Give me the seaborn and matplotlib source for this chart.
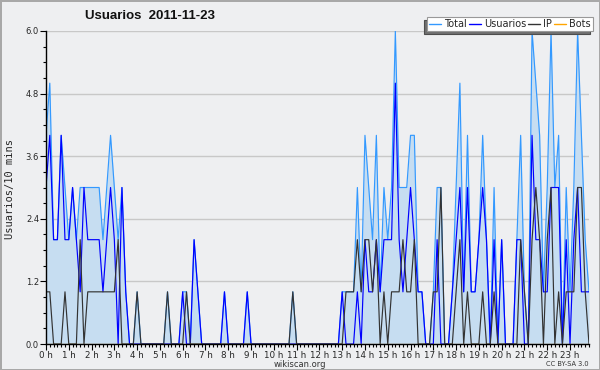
import numpy as np
import matplotlib
matplotlib.use("Agg")
import matplotlib.pyplot as plt
import seaborn as sns

# ---- data (10-minute bins over 24 h) ----
total = [4,5,2,2,4,3,2,3,2,3,3,3,3,3,3,2,3,4,3,2,3,1,0,0,
         1,0,0,0,0,0,0,0,1,0,0,0,1,1,0,2,1,0,0,0,0,0,0,1,
         0,0,0,0,0,1,0,0,0,0,0,0,0,0,0,0,0,1,0,0,0,0,0,0,
         0,0,0,0,0,0,1,1,1,1,3,1,4,3,2,4,1,3,2,3,6,3,3,3,
         4,4,1,1,0,0,1,3,3,0,0,1,3,5,1,4,1,1,2,4,2,0,3,0,
         2,0,0,0,2,4,1,0,6,5,4,1,3,6,3,4,0,3,1,3,6,4,2,1]
usuarios = [3,4,2,2,4,2,2,3,2,1,3,2,2,2,2,1,2,3,2,0,3,1,0,0,
            0,0,0,0,0,0,0,0,0,0,0,0,1,0,0,2,1,0,0,0,0,0,0,1,
            0,0,0,0,0,1,0,0,0,0,0,0,0,0,0,0,0,0,0,0,0,0,0,0,
            0,0,0,0,0,0,1,0,0,0,1,0,2,1,1,2,1,2,2,2,5,2,1,2,
            3,2,1,1,0,0,0,2,0,0,0,1,2,3,1,3,1,1,2,3,2,0,2,0,
            2,0,0,0,2,2,0,0,4,2,2,1,1,3,3,3,0,2,0,2,3,1,1,1]
ip = [1,1,0,0,0,1,0,0,0,2,0,1,1,1,1,1,1,1,1,2,0,0,0,0,
      1,0,0,0,0,0,0,0,1,0,0,0,0,1,0,0,0,0,0,0,0,0,0,0,
      0,0,0,0,0,0,0,0,0,0,0,0,0,0,0,0,0,1,0,0,0,0,0,0,
      0,0,0,0,0,0,0,1,1,1,2,1,2,2,1,2,0,1,0,1,1,1,2,1,
      1,2,0,0,0,0,1,1,3,0,0,0,1,2,0,1,0,0,0,1,0,0,1,0,
      0,0,0,0,0,2,1,0,2,3,2,0,2,3,0,1,0,1,1,1,3,3,1,0]
bots = [0] * 144

hour_labels = [f"{h} h" for h in range(24)]
y_ticks = [0.0, 1.2, 2.4, 3.6, 4.8, 6.0]
series_names = ["Total", "Usuarios", "IP", "Bots"]
colors = ["#3399ff", "#0000ff", "#333333", "#ffa500"]

BG = "#eeeff1"
sns.set_theme(style="white")
plt.rcParams["font.family"] = ["DejaVu Sans"]

fig = plt.figure(figsize=(6.0, 3.7), dpi=100, facecolor=BG)
fig.patch.set_edgecolor("#a8a8a8")
fig.patch.set_linewidth(2)
ax = fig.add_axes([46/600, 1-344/370, (589-46)/600, (344-31)/370])
ax.set_facecolor(BG)

x = np.arange(len(total))
ax.fill_between(x, 0, total, color="#c6ddf1", lw=0, zorder=1)
for name, vals, c in zip(series_names, [total, usuarios, ip, bots], colors):
    sns.lineplot(x=x, y=vals, color=c, linewidth=0.85, ax=ax, label=name,
                 legend=False, zorder=2)

ax.set_xlim(0, 143)
ax.set_ylim(0, 6.0)
ax.set_xticks(np.arange(0, 144, 6))
ax.set_xticklabels(hour_labels, fontsize=6.3)
ax.set_xticks(np.arange(0, 144, 1), minor=True)
ax.set_yticks(y_ticks)
ax.set_yticklabels([f"{v:.1f}" for v in y_ticks], fontsize=6)
ax.tick_params(axis="both", which="major", direction="out", length=4, width=0.8,
               color="black", pad=1.0, bottom=True, left=True)
ax.set_yticks(np.arange(0, 6.01, 0.3), minor=True)
ax.tick_params(axis="both", which="minor", direction="out", length=2.5, width=0.8,
               color="black", bottom=True, left=True)
ax.grid(axis="y", which="major", color="#c8c8c8", linewidth=1.0, zorder=0)
ax.set_axisbelow(True)
for s in ["top", "right"]:
    ax.spines[s].set_visible(False)
for s in ["left", "bottom"]:
    ax.spines[s].set_color("black")
    ax.spines[s].set_linewidth(1.0)
ax.set_xlabel("")
ax.set_ylabel("")

fig.text(85/600, 1-16/370, "Usuarios  2011-11-23", fontsize=9.5, fontweight="bold",
         ha="left", va="center", color="#111111", family="Liberation Sans")
fig.text(10/600, 1-189/370, "Usuarios/10 mins", fontsize=7.5, rotation=90,
         ha="center", va="center", family="DejaVu Sans Mono")
fig.text(300/600, 1-364.5/370, "wikiscan.org", fontsize=6, ha="center", va="center",
         color="#333333")
fig.text(589/600, 1-364.5/370, "CC BY-SA 3.0", fontsize=4.8, ha="right", va="center",
         color="#333333")

handles = [plt.Line2D([], [], color=c, lw=1) for c in colors]
leg = fig.legend(handles, series_names, loc="upper right",
                 bbox_to_anchor=(593/600, 1-17/370), ncol=4, fontsize=7,
                 frameon=True, fancybox=False, handlelength=1.2, handletextpad=0.35,
                 columnspacing=0.2, borderpad=0.22, borderaxespad=0,
                 shadow={"ox": -2.2, "oy": -2.2, "facecolor": "#707070", "alpha": 1})
leg.get_frame().set_facecolor("white")
leg.get_frame().set_edgecolor("#999999")
leg.get_frame().set_linewidth(0.8)

fig.savefig("out.png", dpi=100, facecolor=BG, edgecolor="#a8a8a8")
